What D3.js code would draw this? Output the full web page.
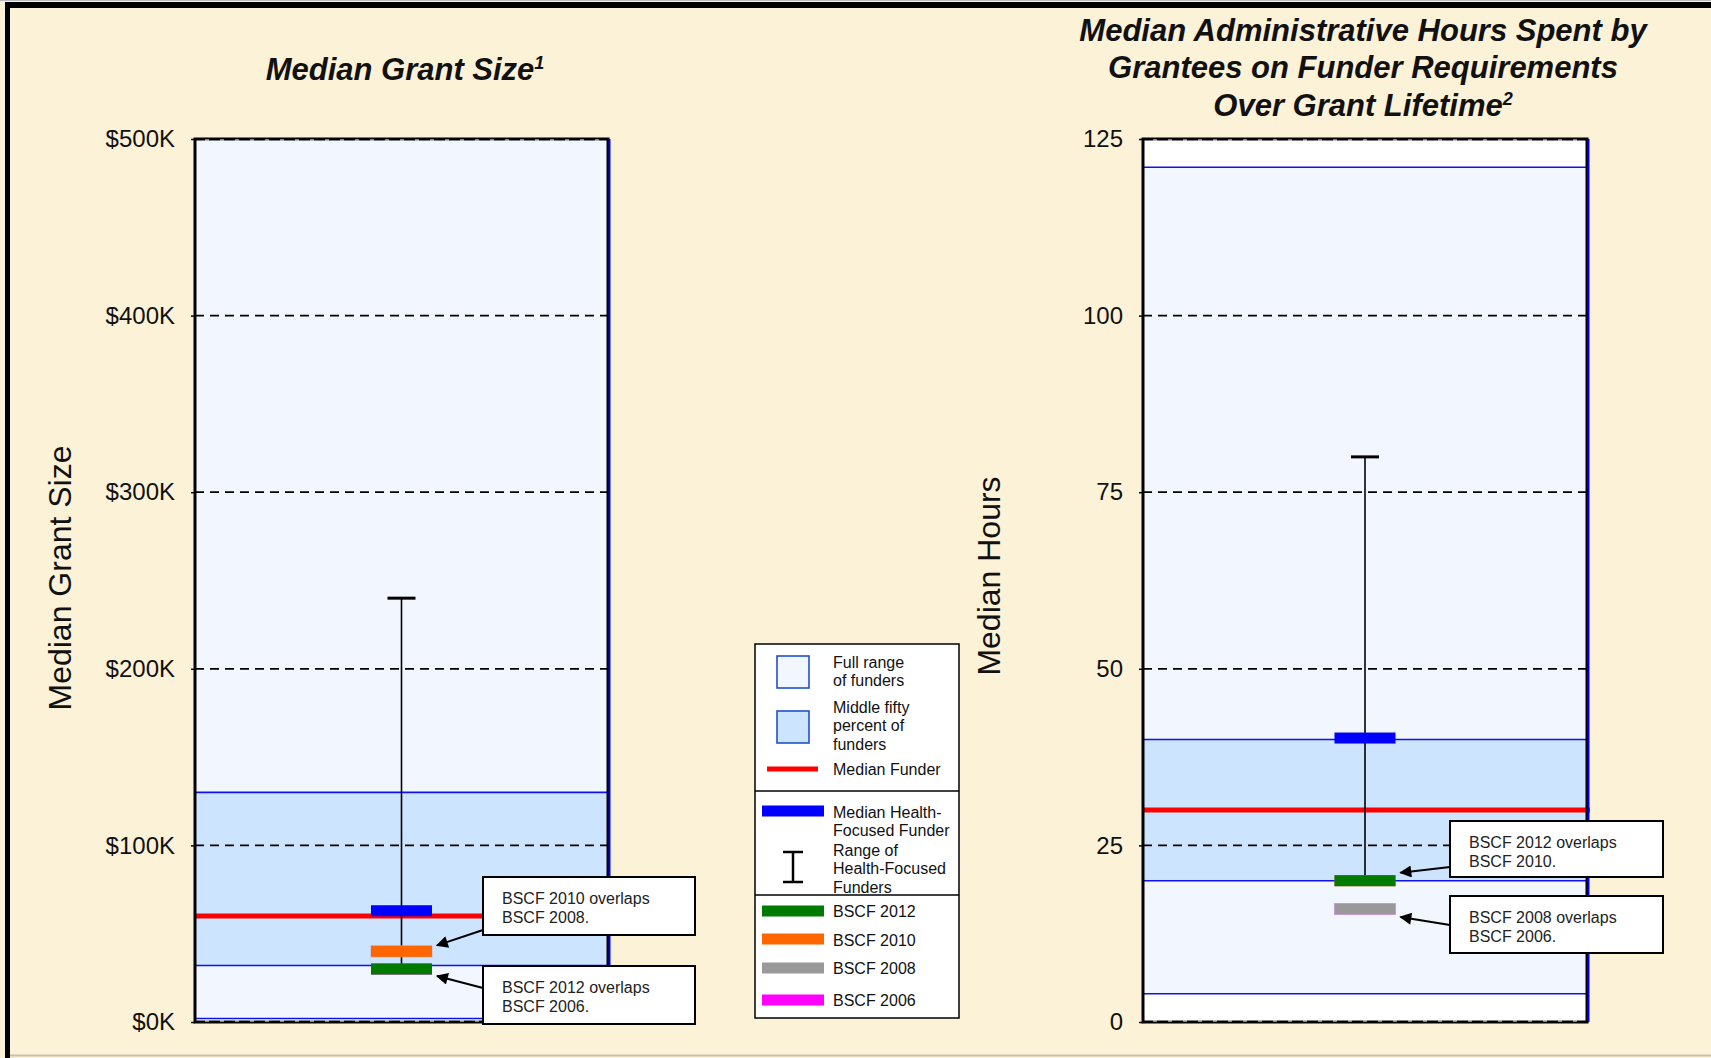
<!DOCTYPE html>
<html>
<head>
<meta charset="utf-8">
<script src="https://cdn.jsdelivr.net/npm/d3@7"></script>
<style>
  html, body { margin: 0; padding: 0; background: #FCF2D7; }
  svg { display: block; font-family: "Liberation Sans", Arial, sans-serif; }
</style>
</head>
<body>
<svg id="chart" width="1711" height="1058"></svg>
<script>
// ---- data -------------------------------------------------------------
// index 0: median grant size ($K), index 1: administrative hours
const panelTitles = [
  ["Median Grant Size"],
  ["Median Administrative Hours Spent by", "Grantees on Funder Requirements", "Over Grant Lifetime"]
];
const footnoteMarks = ["1", "2"];
const axisTitles = ["Median Grant Size", "Median Hours"];
const axisMax = [500, 125];
const grantTicks = [0, 100, 200, 300, 400, 500];
const grantTickLabels = ["$0K", "$100K", "$200K", "$300K", "$400K", "$500K"];
const hoursTicks = [0, 25, 50, 75, 100, 125];
const hoursTickLabels = ["0", "25", "50", "75", "100", "125"];

const fullRangeLow = [2, 4];
const fullRangeHigh = [500, 121];
const middleFiftyLow = [32, 20];
const middleFiftyHigh = [130, 40];
const medianFunder = [60, 30];
const medianHealthFunder = [63, 40.2];
const healthRangeLow = [30, 20];
const healthRangeHigh = [240, 80];

const bscfYears = ["BSCF 2006", "BSCF 2008", "BSCF 2010", "BSCF 2012"];
const bscfColors = ["#FF00FF", "#999999", "#FF6600", "#007A00"];
const bscfGrant = [30, 40, 40, 30];
const bscfHours = [16, 16, 20, 20];

const noteTexts = [
  [["BSCF 2010 overlaps", "BSCF 2008."], ["BSCF 2012 overlaps", "BSCF 2006."]],
  [["BSCF 2012 overlaps", "BSCF 2010."], ["BSCF 2008 overlaps", "BSCF 2006."]]
];
const noteTargets = [[40, 30], [20, 16]];

// ---- layout ----------------------------------------------------------
const panels = [
  { left: 195, right: 608, top: 139, bottom: 1022, ticks: grantTicks, labels: grantTickLabels,
    titleX: 405, titleY: [80], axisTitleX: 60, axisTitleY: 578, bscf: bscfGrant,
    notes: [{ x: 483, y: 877, w: 212, h: 58, sy: 930, dy: -6 }, { x: 483, y: 966, w: 212, h: 58, sy: 988, dy: 7 }] },
  { left: 1143, right: 1587, top: 139, bottom: 1022, ticks: hoursTicks, labels: hoursTickLabels,
    titleX: 1363, titleY: [41, 78, 116], axisTitleX: 989, axisTitleY: 576, bscf: bscfHours,
    notes: [{ x: 1450, y: 821, w: 213, h: 56, sy: 867, dy: -8 }, { x: 1450, y: 896, w: 213, h: 57, sy: 925, dy: 8 }] }
];
const barW = 61, barH = 11, capW = 28;

const svg = d3.select("#chart");

// page background and border
svg.append("rect").attr("width", 1711).attr("height", 1058).attr("fill", "#FCF2D7");
svg.append("line").attr("x1", 0).attr("x2", 1711).attr("y1", 0.5).attr("y2", 0.5).attr("stroke", "#bbb").attr("stroke-width", 1);
svg.append("line").attr("x1", 5).attr("x2", 1711).attr("y1", 5).attr("y2", 5).attr("stroke", "#000").attr("stroke-width", 6);
svg.append("line").attr("x1", 7.5).attr("x2", 7.5).attr("y1", 2).attr("y2", 1058).attr("stroke", "#000").attr("stroke-width", 5);
svg.append("line").attr("x1", 10).attr("x2", 1711).attr("y1", 1055.5).attr("y2", 1055.5).attr("stroke", "#c8c0ad").attr("stroke-width", 2);

const defs = svg.append("defs");
defs.append("marker").attr("id", "arrowhead")
  .attr("viewBox", "0 0 10 10").attr("refX", 9).attr("refY", 5)
  .attr("markerWidth", 16).attr("markerHeight", 12).attr("markerUnits", "userSpaceOnUse")
  .attr("orient", "auto")
  .append("path").attr("d", "M0,0 L10,5 L0,10 Z").attr("fill", "#000");

panels.forEach((p, i) => {
  const y = d3.scaleLinear().domain([0, axisMax[i]]).range([p.bottom, p.top]);
  const x = d3.scaleLinear().domain([0, 1]).range([p.left, p.right]);
  const cx = x(0.5);
  const g = svg.append("g");

  const clipId = "clip" + i;
  defs.append("clipPath").attr("id", clipId).append("rect")
    .attr("x", p.left).attr("y", p.top).attr("width", p.right - p.left).attr("height", p.bottom - p.top);
  const plot = g.append("g").attr("clip-path", `url(#${clipId})`);

  // plot background, full range band, middle fifty band
  plot.append("rect").attr("x", p.left).attr("y", p.top).attr("width", p.right - p.left)
    .attr("height", p.bottom - p.top).attr("fill", "#fff");
  plot.append("rect").attr("x", p.left).attr("width", p.right - p.left)
    .attr("y", y(fullRangeHigh[i])).attr("height", y(fullRangeLow[i]) - y(fullRangeHigh[i]))
    .attr("fill", "#F2F7FF");
  plot.append("rect").attr("x", p.left).attr("width", p.right - p.left)
    .attr("y", y(middleFiftyHigh[i])).attr("height", y(middleFiftyLow[i]) - y(middleFiftyHigh[i]))
    .attr("fill", "#CCE4FD");

  // dashed gridlines
  plot.selectAll(".grid").data(p.ticks.filter(t => t > 0 && t < axisMax[i])).join("line")
    .attr("x1", p.left).attr("x2", p.right)
    .attr("y1", d => y(d)).attr("y2", d => y(d))
    .attr("stroke", "#000").attr("stroke-width", 1.8).attr("stroke-dasharray", "9,6");

  // band edges
  [fullRangeLow[i], fullRangeHigh[i], middleFiftyLow[i], middleFiftyHigh[i]].forEach(v => {
    plot.append("line").attr("x1", p.left).attr("x2", p.right)
      .attr("y1", y(v)).attr("y2", y(v)).attr("stroke", "#1010F0").attr("stroke-width", 1.6);
  });

  // median funder
  g.append("line").attr("x1", p.left).attr("x2", p.right + (i === 1 ? 3 : 0))
    .attr("y1", y(medianFunder[i])).attr("y2", y(medianFunder[i]))
    .attr("stroke", "#FF0000").attr("stroke-width", 5);

  // range of health-focused funders
  g.append("line").attr("x1", cx).attr("x2", cx)
    .attr("y1", y(healthRangeHigh[i])).attr("y2", y(healthRangeLow[i]))
    .attr("stroke", "#000").attr("stroke-width", 1.6);
  g.append("line").attr("x1", cx - capW / 2).attr("x2", cx + capW / 2)
    .attr("y1", y(healthRangeHigh[i])).attr("y2", y(healthRangeHigh[i]))
    .attr("stroke", "#000").attr("stroke-width", 3);

  // BSCF medians, earliest first so later years sit on top
  g.selectAll(".bscf").data(p.bscf).join("rect")
    .attr("x", cx - barW / 2).attr("width", barW)
    .attr("y", d => y(d) - barH / 2).attr("height", barH)
    .attr("fill", (d, k) => bscfColors[k])
    .attr("stroke", (d, k) => k === 1 ? "#c9a0d8" : "none").attr("stroke-width", 0.8);

  // median health-focused funder
  g.append("rect").attr("x", cx - barW / 2).attr("width", barW)
    .attr("y", y(medianHealthFunder[i]) - barH / 2).attr("height", barH).attr("fill", "#0000FF");

  // frame
  g.append("rect").attr("x", p.left).attr("y", p.top).attr("width", p.right - p.left)
    .attr("height", p.bottom - p.top).attr("fill", "none").attr("stroke", "#000").attr("stroke-width", 3);
  g.append("line").attr("x1", p.right + 1.5).attr("x2", p.right + 1.5).attr("y1", p.top).attr("y2", p.bottom)
    .attr("stroke", "#0000EE").attr("stroke-width", 2);
  [p.top + 1, p.bottom - 1].forEach(yy => {
    g.append("line").attr("x1", p.left + 10).attr("x2", p.right - 6).attr("y1", yy).attr("y2", yy)
      .attr("stroke", "#fff").attr("stroke-width", 1).attr("stroke-dasharray", "4,11");
  });

  // y axis
  const axis = d3.axisLeft(y).tickValues(p.ticks).tickSize(4).tickPadding(16)
    .tickFormat((d, k) => p.labels[k]);
  const ag = g.append("g").attr("transform", `translate(${p.left},0)`).call(axis);
  ag.select(".domain").remove();
  ag.selectAll(".tick line").attr("stroke", "#000").attr("stroke-width", 1.5);
  ag.selectAll(".tick text").attr("font-size", 24).attr("fill", "#111")
    .attr("font-family", "'Liberation Sans', Arial, sans-serif");

  // axis title
  g.append("text").attr("transform", `translate(${p.axisTitleX},${p.axisTitleY}) rotate(-90)`)
    .attr("text-anchor", "middle").attr("dominant-baseline", "central")
    .attr("font-size", 32).attr("fill", "#111").text(axisTitles[i]);

  // panel title
  panelTitles[i].forEach((line, k) => {
    const t = g.append("text").attr("x", p.titleX).attr("y", p.titleY[k])
      .attr("text-anchor", "middle").attr("font-size", 31).attr("font-weight", "bold")
      .attr("font-style", "italic").attr("fill", "#111").text(line);
    if (k === panelTitles[i].length - 1) {
      t.append("tspan").attr("font-size", 18).attr("dy", -11).text(footnoteMarks[i]);
    }
  });

  // overlap notes with arrows
  p.notes.forEach((n, k) => {
    const tipX = cx + barW / 2 + 5;
    const tipY = y(noteTargets[i][k]) + n.dy;
    g.append("line").attr("x1", n.x).attr("y1", n.sy).attr("x2", tipX).attr("y2", tipY)
      .attr("stroke", "#000").attr("stroke-width", 2).attr("marker-end", "url(#arrowhead)");
    g.append("rect").attr("x", n.x).attr("y", n.y).attr("width", n.w).attr("height", n.h)
      .attr("fill", "#fff").attr("stroke", "#000").attr("stroke-width", 2);
    noteTexts[i][k].forEach((line, m) => {
      g.append("text").attr("x", n.x + 19).attr("y", n.y + 21 + m * 19)
        .attr("dominant-baseline", "central").attr("font-size", 16).attr("fill", "#222").text(line);
    });
  });
});

// ---- legend ----------------------------------------------------------
const legendTextX = 833;
const lg = svg.append("g");
lg.append("rect").attr("x", 755).attr("y", 644).attr("width", 204).attr("height", 374)
  .attr("fill", "#fff").attr("stroke", "#000").attr("stroke-width", 1.5);
[791, 895].forEach(yy => lg.append("line").attr("x1", 755).attr("x2", 959).attr("y1", yy).attr("y2", yy)
  .attr("stroke", "#000").attr("stroke-width", 1.5));

const legendItems = [
  { kind: "box", fill: "#F2F7FF", y: 672, lines: ["Full range", "of funders"], ty: 662 },
  { kind: "box", fill: "#CCE4FD", y: 727, lines: ["Middle fifty", "percent of", "funders"], ty: 707 },
  { kind: "line", color: "#FF0000", y: 769, lines: ["Median Funder"], ty: 769 },
  { kind: "bar", color: "#0000FF", y: 811, lines: ["Median Health-", "Focused Funder"], ty: 812 },
  { kind: "range", y: 867, lines: ["Range of", "Health-Focused", "Funders"], ty: 850 },
  { kind: "bar", color: bscfColors[3], y: 911, lines: [bscfYears[3]], ty: 911 },
  { kind: "bar", color: bscfColors[2], y: 939, lines: [bscfYears[2]], ty: 940 },
  { kind: "bar", color: bscfColors[1], y: 968, lines: [bscfYears[1]], ty: 968 },
  { kind: "bar", color: bscfColors[0], y: 1000, lines: [bscfYears[0]], ty: 1000 }
];
legendItems.forEach(it => {
  if (it.kind === "box") {
    lg.append("rect").attr("x", 777).attr("y", it.y - 16).attr("width", 32).attr("height", 32)
      .attr("fill", it.fill).attr("stroke", "#2050D0").attr("stroke-width", 1.6);
  } else if (it.kind === "line") {
    lg.append("line").attr("x1", 767).attr("x2", 818).attr("y1", it.y).attr("y2", it.y)
      .attr("stroke", it.color).attr("stroke-width", 5);
  } else if (it.kind === "bar") {
    lg.append("rect").attr("x", 762).attr("y", it.y - 5.5).attr("width", 62).attr("height", 11).attr("fill", it.color);
  } else {
    lg.append("line").attr("x1", 793).attr("x2", 793).attr("y1", it.y - 15).attr("y2", it.y + 15)
      .attr("stroke", "#000").attr("stroke-width", 2.5);
    [it.y - 15, it.y + 15].forEach(yy => lg.append("line").attr("x1", 783).attr("x2", 803)
      .attr("y1", yy).attr("y2", yy).attr("stroke", "#000").attr("stroke-width", 2.5));
  }
  it.lines.forEach((line, m) => {
    lg.append("text").attr("x", legendTextX).attr("y", it.ty + m * 18.5)
      .attr("dominant-baseline", "central").attr("font-size", 16).attr("fill", "#111").text(line);
  });
});
</script>
</body>
</html>
